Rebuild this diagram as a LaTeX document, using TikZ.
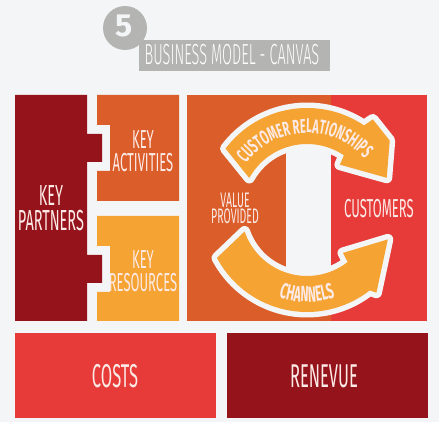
\documentclass[tikz,border=0pt]{standalone}
\usepackage{fontspec}
\setmainfont{Fira Sans}
\newfontfamily\handfont[FakeStretch=0.5]{Fira Sans}
\newfontfamily\thinfont[FakeStretch=0.5]{Fira Sans Light}
\newfontfamily\arcfont[FakeStretch=0.55]{Fira Sans}
\usepackage{xcolor}
\usetikzlibrary{decorations.text}

\definecolor{bgc}{HTML}{F4F5F7}
\definecolor{darkredc}{HTML}{95141C}
\definecolor{orangec}{HTML}{DB5D2A}
\definecolor{yellowc}{HTML}{F5A332}
\definecolor{redc}{HTML}{E63B39}
\definecolor{grayc}{HTML}{B4B4B2}
\definecolor{textc}{HTML}{FCEAE6}

\begin{document}
\begin{tikzpicture}[
  x=1pt, y=1pt,
  lbl/.style={text=textc, align=center, inner sep=0pt,
              font=\handfont\fontsize{29}{25}\selectfont},
  smalllbl/.style={lbl, font=\handfont\fontsize{21}{16}\selectfont},
  biglbl/.style={lbl, font=\handfont\fontsize{33}{30}\selectfont},
  ring/.style={fill=yellowc, preaction={draw=bgc, line width=11pt, line join=round}},
  arctext/.style={decorate, decoration={text along path, text align=center,
              text color=textc, text format delimiters={|}{|}}}
]
\fill[bgc] (0,0) rectangle (439,422);

% top row blocks
\fill[darkredc] (15,101) -- (15,327) -- (87,327) -- (87,288) -- (102,288) -- (102,260)
      -- (87,260) -- (87,167) -- (102,167) -- (102,139) -- (87,139) -- (87,101) -- cycle;
\fill[orangec] (97,221) -- (97,251) -- (110,251) -- (110,297) -- (97,297) -- (97,327)
      -- (179,327) -- (179,221) -- cycle;
\fill[yellowc] (97,101) -- (97,130) -- (110,130) -- (110,176) -- (97,176) -- (97,206)
      -- (179,206) -- (179,101) -- cycle;
\fill[orangec] (187,101) rectangle (331,327);
\fill[redc] (331,101) rectangle (427,327);

% bottom row
\fill[redc] (15,4) rectangle (216,89);
\fill[darkredc] (227,4) rectangle (428,89);

% ring of arrows
\coordinate (ring) at (307,212);
\fill[bgc] (286,130) rectangle (331,290);
\fill[ring] ([shift={(143:102)}]ring) arc[start angle=143, end angle=56, radius=102]
      -- ([shift={(54:112)}]ring) -- ([shift={(40:108)}]ring) -- ([shift={(22:86)}]ring)
      -- ([shift={(54:56)}]ring) -- ([shift={(56:66)}]ring)
      arc[start angle=56, end angle=151, radius=66] -- cycle;
\fill[ring] ([shift={(208:102)}]ring) arc[start angle=208, end angle=308, radius=102]
      -- ([shift={(310:108)}]ring) -- ([shift={(340:86)}]ring)
      -- ([shift={(310:56)}]ring) -- ([shift={(308:66)}]ring)
      arc[start angle=308, end angle=199, radius=66] -- cycle;

\path[arctext, decoration={text={|\arcfont\bfseries\fontsize{20}{20}\selectfont|CUSTOMER RELATIONSHIPS}}]
      ([shift={(152:77)}]ring) arc[start angle=152, end angle=32, radius=77];
\path[arctext, decoration={text={|\arcfont\bfseries\fontsize{22}{22}\selectfont|CHANNELS}}]
      ([shift={(240:92)}]ring) arc[start angle=240, end angle=300, radius=92];

% labels
\node[lbl] (partners) at (51,214) {KEY\\PARTNERS};
\node[lbl, font=\handfont\fontsize{26}{23}\selectfont] (activities) at (143,271) {KEY\\ACTIVITIES};
\node[lbl, font=\handfont\fontsize{26}{23}\selectfont] (resources) at (143,151) {KEY\\RESOURCES};
\node[smalllbl] (value) at (235,214) {VALUE\\PROVIDED};
\node[lbl, font=\handfont\fontsize{26}{23}\selectfont] (customers) at (379,213) {CUSTOMERS};
\node[biglbl] (costs) at (115,46) {COSTS};
\node[biglbl] (revenue) at (324,46) {RENEVUE};

% title
\fill[grayc] (125,394) circle[radius=22];
\node[text=bgc, font=\bfseries\fontsize{32}{32}\selectfont, inner sep=0pt] (num) at (124,396) {5};
\fill[grayc] (139,351) rectangle (330,382);
\node[text=white, inner sep=0pt, font=\thinfont\fontsize{29}{29}\selectfont] (title) at (232,367)
      {BUSINESS MODEL - CANVAS};
\end{tikzpicture}
\end{document}
